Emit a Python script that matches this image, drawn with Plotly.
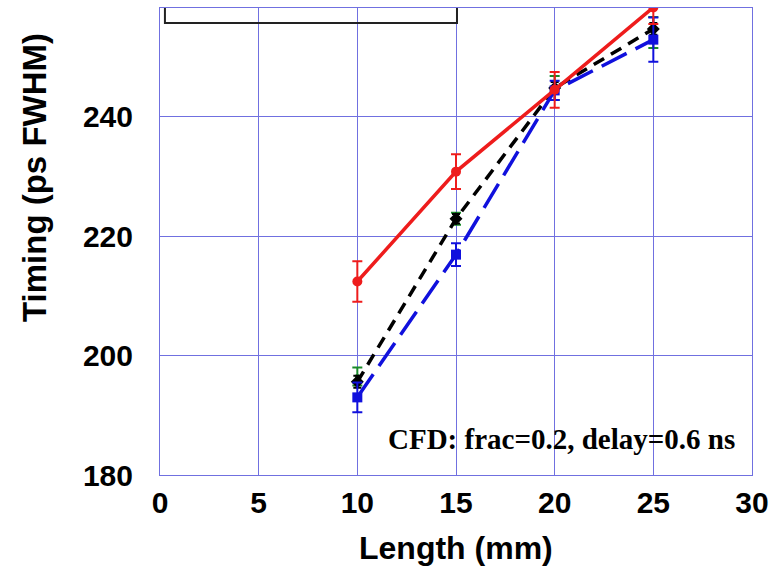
import plotly.graph_objects as go

length_mm = [10, 15, 20, 25]

red_vals = [212.4, 230.8, 244.5, 258.3]
red_err = [3.4, 2.9, 3.0, 2.8]

black_vals = [195.6, 222.9, 244.8, 254.7]
black_err = [1.0, 0.8, 1.0, 1.0]

green_vals = [196.5, 222.9, 244.8, 254.1]
green_err = [1.5, 1.0, 2.0, 2.6]

blue_vals = [193.0, 216.9, 244.4, 252.9]
blue_err = [2.5, 1.9, 1.6, 3.7]

x_ticks = [0, 5, 10, 15, 20, 25, 30]
y_ticks = [180, 200, 220, 240]

annotation_text = "CFD: frac=0.2, delay=0.6 ns"

fig = go.Figure()

fig.add_trace(go.Scatter(
    x=length_mm, y=green_vals, mode="markers",
    marker=dict(color="#1a8a2a", size=5, symbol="circle"),
    error_y=dict(type="data", array=green_err, color="#1a8a2a", thickness=2, width=5),
    showlegend=False))

fig.add_trace(go.Scatter(
    x=length_mm, y=black_vals, mode="lines+markers",
    line=dict(color="black", width=3.5, dash="12px,8px"),
    marker=dict(color="black", size=10, symbol="diamond"),
    error_y=dict(type="data", array=black_err, color="black", thickness=2, width=4),
    showlegend=False))

fig.add_trace(go.Scatter(
    x=length_mm, y=blue_vals, mode="lines+markers",
    line=dict(color="#1010dd", width=3.5, dash="28px,10px"),
    marker=dict(color="#1010dd", size=10, symbol="square"),
    error_y=dict(type="data", array=blue_err, color="#1010dd", thickness=2, width=5),
    showlegend=False))

fig.add_trace(go.Scatter(
    x=length_mm, y=red_vals, mode="lines+markers",
    line=dict(color="#ee1c1c", width=3.5),
    marker=dict(color="#ee1c1c", size=10, symbol="circle"),
    error_y=dict(type="data", array=red_err, color="#ee1c1c", thickness=2, width=5),
    showlegend=False))

# legend box (mostly cut off at the top)
fig.add_shape(type="rect", x0=0.25, x1=15.05, y0=255.7, y1=262,
              xref="x", yref="y", line=dict(color="#222222", width=2),
              fillcolor="rgba(0,0,0,0)", layer="above")

fig.add_annotation(x=(737 - 160) / 592, y=(475 - 439) / 467, xref="paper", yref="paper",
                   xanchor="right", yanchor="middle",
                   text="<b>" + annotation_text + "</b>", showarrow=False,
                   font=dict(family="Liberation Serif", size=29, color="black"))

fig.add_annotation(x=-126 / 592, y=(475 - 178) / 467, xref="paper", yref="paper",
                   text="<b>Timing (ps FWHM)</b>", textangle=-90, showarrow=False,
                   xanchor="center", yanchor="middle",
                   font=dict(family="Liberation Sans", size=33, color="black"))

fig.add_annotation(x=0.5, y=-(548 - 475) / 467, xref="paper", yref="paper",
                   text="<b>Length (mm)</b>", showarrow=False,
                   xanchor="center", yanchor="middle",
                   font=dict(family="Liberation Sans", size=32, color="black"))

axis_color = "#7070e0"
tick_font = dict(family="Liberation Sans", size=30, color="black")
fig.update_xaxes(range=[0, 30], tickvals=x_ticks, ticktext=[f"<b>{v}</b>" for v in x_ticks],
                 showgrid=True, gridcolor=axis_color, gridwidth=1,
                 showline=True, linecolor=axis_color, linewidth=1, mirror=True,
                 zeroline=False, ticks="", ticklabelstandoff=1,
                 tickfont=tick_font)
fig.update_yaxes(range=[180, 258.2], tickvals=y_ticks, ticktext=[f"<b>{v}</b>" for v in y_ticks],
                 showgrid=True, gridcolor=axis_color, gridwidth=1,
                 showline=True, linecolor=axis_color, linewidth=1, mirror=True,
                 zeroline=False, ticks="", ticklabelstandoff=20,
                 tickfont=tick_font)

fig.update_layout(width=778, height=574, margin=dict(l=160, r=26, t=8, b=99),
                  plot_bgcolor="white", paper_bgcolor="white", showlegend=False)

fig.write_html("out.html")
